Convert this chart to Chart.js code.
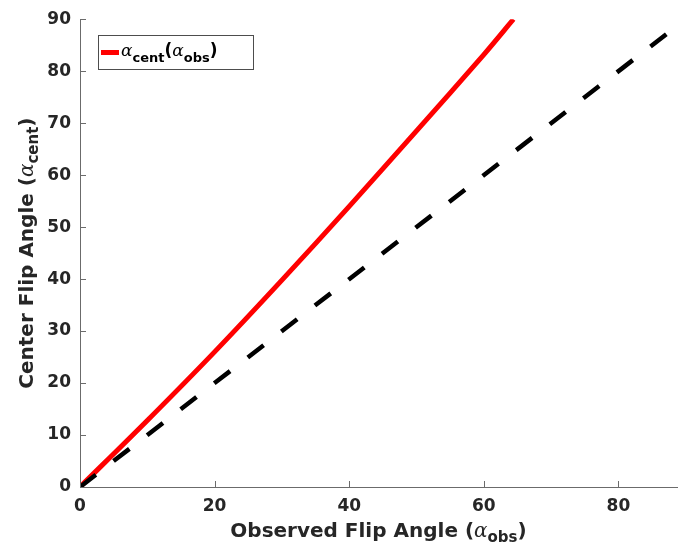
<!DOCTYPE html>
<html>
<head>
<meta charset="utf-8">
<script src="https://cdn.jsdelivr.net/npm/chart.js@4"></script>
<style>
  body { margin: 0; background: #fff; }
  #wrap { width: 678px; height: 550px; }
</style>
</head>
<body>
<div id="wrap"><canvas id="flipChart" width="678" height="550"></canvas></div>
<script>
// data
var obsAngle  = [0, 10, 20, 30, 40, 50, 60, 64.4];
var centAngle = [0, 12.8, 26, 39.8, 54, 68.5, 83.2, 90];
var identityX = [0, 88.7];
var identityY = [0, 88.7];
var xTickValues = [0, 20, 40, 60, 80];
var yTickValues = [0, 10, 20, 30, 40, 50, 60, 70, 80, 90];

var axisGray = '#6b6b6b';
var boldFont = '"DejaVu Sans", sans-serif';
var alphaFont = 'italic 20px "DejaVu Serif", serif';

function toPoints(xs, ys) {
    return xs.map(function (x, i) { return { x: x, y: ys[i] }; });
}

// draws a run of text pieces (some of them subscripts) starting at x
function drawPieces(ctx, pieces, x, y) {
    pieces.forEach(function (p) {
        ctx.font = p.font;
        ctx.fillText(p.text, x, y + (p.dy || 0));
        x += ctx.measureText(p.text).width + (p.gap || 0);
    });
    return x;
}
function piecesWidth(ctx, pieces) {
    var w = 0;
    pieces.forEach(function (p) {
        ctx.font = p.font;
        w += ctx.measureText(p.text).width + (p.gap || 0);
    });
    return w;
}

var decorPlugin = {
    id: 'decor',
    afterDraw: function (chart) {
        var ctx = chart.ctx;
        var area = chart.chartArea;
        var xs = chart.scales.x, ys = chart.scales.y;
        ctx.save();

        // inner tick marks
        ctx.strokeStyle = axisGray;
        ctx.lineWidth = 1;
        xTickValues.forEach(function (v) {
            var px = Math.round(xs.getPixelForValue(v)) + 0.5;
            ctx.beginPath(); ctx.moveTo(px, area.bottom); ctx.lineTo(px, area.bottom - 6); ctx.stroke();
        });
        yTickValues.forEach(function (v) {
            var py = Math.round(ys.getPixelForValue(v)) + 0.5;
            ctx.beginPath(); ctx.moveTo(area.left, py); ctx.lineTo(area.left + 6, py); ctx.stroke();
        });

        ctx.fillStyle = '#262626';
        ctx.textBaseline = 'alphabetic';
        ctx.textAlign = 'left';

        // x axis title
        var xt = [
            { text: 'Observed Flip Angle (', font: 'bold 20px ' + boldFont },
            { text: 'α', font: alphaFont },
            { text: 'obs', font: 'bold 15px ' + boldFont, dy: 5 },
            { text: ')', font: 'bold 20px ' + boldFont }
        ];
        var cx = (area.left + area.right) / 2;
        drawPieces(ctx, xt, cx - piecesWidth(ctx, xt) / 2, 537);

        // y axis title
        var yt = [
            { text: 'Center Flip Angle (', font: 'bold 20px ' + boldFont },
            { text: 'α', font: alphaFont },
            { text: 'cent', font: 'bold 15px ' + boldFont, dy: 5 },
            { text: ')', font: 'bold 20px ' + boldFont }
        ];
        ctx.save();
        ctx.translate(33, (area.top + area.bottom) / 2);
        ctx.rotate(-Math.PI / 2);
        drawPieces(ctx, yt, -piecesWidth(ctx, yt) / 2, 0);
        ctx.restore();

        // legend box
        ctx.fillStyle = '#fff';
        ctx.fillRect(98.5, 35.5, 155, 34);
        ctx.strokeStyle = '#4d4d4d';
        ctx.lineWidth = 1;
        ctx.strokeRect(98.5, 35.5, 155, 34);
        ctx.strokeStyle = 'rgb(255,0,0)';
        ctx.lineWidth = 5;
        ctx.beginPath(); ctx.moveTo(101, 52.5); ctx.lineTo(119, 52.5); ctx.stroke();
        ctx.fillStyle = '#000';
        var lt = [
            { text: 'α', font: 'italic 17px "DejaVu Serif", serif' },
            { text: 'cent', font: 'bold 13px ' + boldFont, dy: 6 },
            { text: '(', font: 'bold 17px ' + boldFont },
            { text: 'α', font: 'italic 17px "DejaVu Serif", serif' },
            { text: 'obs', font: 'bold 13px ' + boldFont, dy: 6 },
            { text: ')', font: 'bold 17px ' + boldFont }
        ];
        drawPieces(ctx, lt, 121, 56);

        ctx.restore();
    }
};

var ctx = document.getElementById('flipChart').getContext('2d');
var flipChart = new Chart(ctx, {
    type: 'scatter',
    data: {
        datasets: [{
            label: 'identity',
            data: toPoints(identityX, identityY),
            showLine: true,
            borderColor: '#000',
            borderWidth: 4.5,
            borderDash: [20, 22.4],
            borderCapStyle: 'butt',
            pointRadius: 0,
            fill: false
        }, {
            label: 'αcent(αobs)',
            data: toPoints(obsAngle, centAngle),
            showLine: true,
            borderColor: 'rgb(255,0,0)',
            borderWidth: 5,
            tension: 0.3,
            pointRadius: 0,
            fill: false
        }]
    },
    options: {
        responsive: false,
        animation: false,
        layout: { padding: { top: 17, right: 1, left: 0, bottom: 0 } },
        plugins: {
            legend: { display: false },
            tooltip: { enabled: false }
        },
        scales: {
            x: {
                type: 'linear',
                min: 0,
                max: identityX[1],
                afterBuildTicks: function (s) { s.ticks = xTickValues.map(function (v) { return { value: v }; }); },
                afterFit: function (s) { s.height = 63; },
                grid: { drawOnChartArea: false, drawTicks: false },
                border: { display: true, color: axisGray, width: 1 },
                ticks: {
                    padding: 9,
                    color: '#262626',
                    font: { family: boldFont, size: 17, weight: 'bold' }
                }
            },
            y: {
                type: 'linear',
                min: 0,
                max: 90,
                afterBuildTicks: function (s) { s.ticks = yTickValues.map(function (v) { return { value: v }; }); },
                afterFit: function (s) { s.width = 80; },
                grid: { drawOnChartArea: false, drawTicks: false },
                border: { display: true, color: axisGray, width: 1 },
                ticks: {
                    padding: 9,
                    color: '#262626',
                    font: { family: boldFont, size: 17, weight: 'bold' }
                }
            }
        }
    },
    plugins: [decorPlugin]
});
</script>
</body>
</html>
